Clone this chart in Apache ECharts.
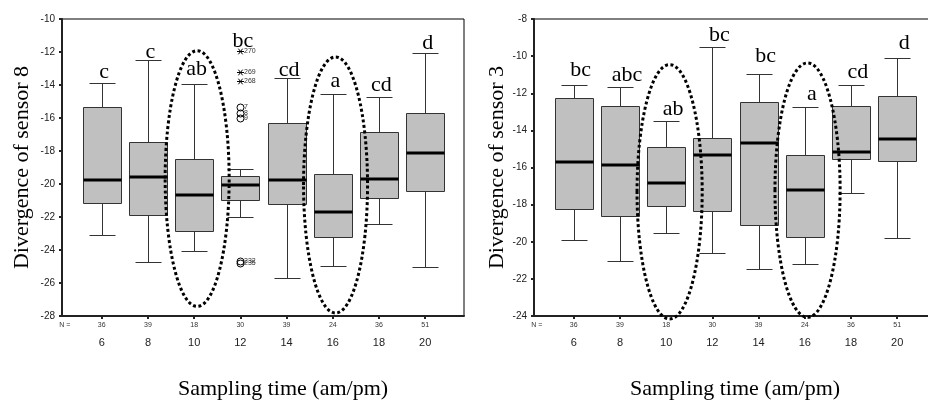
<!DOCTYPE html>
<html><head><meta charset="utf-8">
<script src="https://cdn.jsdelivr.net/npm/echarts@6/dist/echarts.min.js"></script>
<style>html,body{margin:0;padding:0;background:#fff}#c{width:928px;height:401px}</style>
</head><body><div id="c"></div>
<script>
// ---------- data ----------
const times = [6, 8, 10, 12, 14, 16, 18, 20];
const counts = [36, 39, 18, 30, 39, 24, 36, 51];

// sensor 8 (left panel)
const s8Low = [-23.1, -24.74, -24.07, -22.02, -25.7, -24.94, -22.41, -25.05];
const s8Q1  = [-21.15, -21.85, -22.82, -20.97, -21.24, -23.24, -20.85, -20.43];
const s8Med = [-19.78, -19.6, -20.65, -20.06, -19.78, -21.68, -19.72, -18.1];
const s8Q3  = [-15.32, -17.43, -18.48, -19.5, -16.33, -19.39, -16.84, -15.72];
const s8High = [-13.88, -12.5, -13.96, -19.1, -13.6, -14.53, -14.75, -12.06];
const s8Letters = ['c', 'c', 'ab', 'bc', 'cd', 'a', 'cd', 'd'];
const s8LetterBase = [-13.68, -12.46, -13.51, -11.81, -13.57, -14.24, -14.49, -11.9];
const s8OutX = [12, 12, 12, 12, 12, 12, 12, 12];
const s8OutY = [-11.96, -13.19, -13.76, -15.34, -15.7, -16.0, -24.66, -24.78];
const s8OutKind = ['star', 'star', 'star', 'circle', 'circle', 'circle', 'circle', 'circle'];
const s8OutLabel = ['270', '269', '268', '7', '8', '9', '232', '235'];
const s8Ellipses = [[8.745, 11.515, -27.42, -11.92], [14.735, 17.505, -27.82, -12.3]];

// sensor 3 (right panel)
const s3Low = [-19.89, -21.02, -19.51, -20.59, -21.46, -21.22, -17.37, -19.78];
const s3Q1  = [-18.21, -18.63, -18.09, -18.32, -19.1, -19.76, -15.54, -15.64];
const s3Med = [-15.71, -15.87, -16.83, -15.31, -14.7, -17.22, -15.17, -14.45];
const s3Q3  = [-12.25, -12.69, -14.91, -14.41, -12.48, -15.31, -12.69, -12.14];
const s3High = [-11.53, -11.67, -13.47, -9.5, -10.95, -12.75, -11.58, -10.1];
const s3Letters = ['bc', 'abc', 'ab', 'bc', 'bc', 'a', 'cd', 'd'];
const s3LetterBase = [-11.18, -11.45, -13.26, -9.29, -10.42, -12.45, -11.27, -9.69];
const s3Ellipses = [[8.74, 11.56, -24.16, -10.46], [14.71, 17.53, -24.07, -10.37]];

const yTitles = ['Divergence of sensor 8', 'Divergence of sensor 3'];
const xTitle = 'Sampling time (am/pm)';
const nLabel = 'N =';

// ---------- rendering ----------
const SERIF = "'Liberation Serif','Times New Roman',serif";
const SANS = "'Liberation Sans',Arial,sans-serif";
const chart = echarts.init(document.getElementById('c'), null, {renderer: 'canvas'});

const crisp = v => Math.round(v) + 0.5;

function boxRenderer(params, api) {
  const x = api.value(0);
  const lo = api.coord([x, api.value(1)]);
  const q1 = api.coord([x, api.value(2)]);
  const md = api.coord([x, api.value(3)]);
  const q3 = api.coord([x, api.value(4)]);
  const hi = api.coord([x, api.value(5)]);
  const cx = crisp(lo[0]);
  const bw = 38, cw = 26;
  const ln = (x1, y1, x2, y2, w, c) => ({type: 'line', shape: {x1, y1, x2, y2},
    style: {stroke: c, lineWidth: w}});
  const yLo = crisp(lo[1]), yHi = crisp(hi[1]), yQ1 = crisp(q1[1]), yQ3 = crisp(q3[1]);
  return {type: 'group', children: [
    ln(cx, yHi, cx, yQ3, 1, '#333'),
    ln(cx, yQ1, cx, yLo, 1, '#333'),
    ln(cx - cw / 2, yHi, cx + cw / 2, yHi, 1, '#333'),
    ln(cx - cw / 2, yLo, cx + cw / 2, yLo, 1, '#333'),
    {type: 'rect', shape: {x: cx - bw / 2, y: yQ3, width: bw, height: yQ1 - yQ3},
      style: {fill: '#c0c0c0', stroke: '#333', lineWidth: 1}},
    ln(cx - bw / 2, Math.round(md[1]), cx + bw / 2, Math.round(md[1]), 3, '#000')
  ]};
}

function letterRenderer(letters, dx) {
  return function (params, api) {
    const p = api.coord([api.value(0), api.value(1)]);
    return {type: 'text', x: p[0] + dx, y: p[1] - 7.4,
      style: {text: letters[params.dataIndex], fontFamily: SERIF, fontSize: 22,
        fill: '#000', align: 'center', verticalAlign: 'middle'}};
  };
}

function ellipseRenderer(params, api) {
  const a = api.coord([api.value(0), api.value(2)]);
  const b = api.coord([api.value(1), api.value(3)]);
  return {type: 'ellipse',
    shape: {cx: (a[0] + b[0]) / 2, cy: (a[1] + b[1]) / 2,
      rx: Math.abs(b[0] - a[0]) / 2, ry: Math.abs(b[1] - a[1]) / 2},
    style: {fill: 'none', stroke: '#000', lineWidth: 3, lineDash: [3, 2.5]}};
}

function outlierRenderer(params, api) {
  const i = params.dataIndex;
  const p = api.coord([api.value(0), api.value(1)]);
  const x = crisp(p[0]), y = crisp(p[1]);
  const kids = [];
  if (s8OutKind[i] === 'star') {
    const r = 3.5;
    const st = {stroke: '#000', lineWidth: 1};
    kids.push({type: 'line', shape: {x1: x - r, y1: y, x2: x + r, y2: y}, style: st});
    kids.push({type: 'line', shape: {x1: x - r * 0.6, y1: y - r * 0.8, x2: x + r * 0.6, y2: y + r * 0.8}, style: st});
    kids.push({type: 'line', shape: {x1: x - r * 0.6, y1: y + r * 0.8, x2: x + r * 0.6, y2: y - r * 0.8}, style: st});
  } else {
    kids.push({type: 'circle', shape: {cx: x, cy: y, r: 3.5},
      style: {fill: 'none', stroke: '#000', lineWidth: 1}});
  }
  kids.push({type: 'text', x: x + 3.5, y: y,
    style: {text: s8OutLabel[i], fontFamily: SANS, fontSize: 7, fill: '#333',
      align: 'left', verticalAlign: 'middle'}});
  return {type: 'group', children: kids};
}

function xAxis(gi, shift) {
  return {
    type: 'value', gridIndex: gi, min: 4.28, max: 21.68,
    name: xTitle, nameLocation: 'middle', nameGap: 62,
    nameTextStyle: {fontFamily: SERIF, fontSize: 22, color: '#000', padding: [0, 0, 0, shift]},
    splitLine: {show: false},
    axisLine: {show: true, onZero: false, lineStyle: {color: '#222', width: 2}},
    axisTick: {show: true, customValues: times, length: 3, lineStyle: {color: '#222', width: 2}},
    axisLabel: {
      customValues: [4.4].concat(times), margin: 4,
      formatter: function (v) {
        const i = times.indexOf(v);
        if (i < 0) return '{n|' + nLabel + '}\n{c| }';
        return '{n|' + counts[i] + '}\n{c|' + times[i] + '}';
      },
      rich: {
        n: {fontFamily: SANS, fontSize: 7, lineHeight: 10, color: '#333'},
        c: {fontFamily: SANS, fontSize: 11, lineHeight: 26, color: '#222'}
      }
    }
  };
}

function yAxis(gi, min, max, title, gap) {
  return {
    type: 'value', gridIndex: gi, min: min, max: max, interval: 2,
    name: title, nameLocation: 'middle', nameGap: gap, nameRotate: 90,
    nameTextStyle: {fontFamily: SERIF, fontSize: 22, color: '#000'},
    splitLine: {show: false},
    axisLine: {show: true, onZero: false, lineStyle: {color: '#222', width: 2}},
    axisTick: {show: true, length: 3, lineStyle: {color: '#222', width: 2}},
    axisLabel: {margin: 7, fontFamily: SANS, fontSize: 10, color: '#222'}
  };
}

const boxData = (lo, q1, md, q3, hi) => times.map((t, i) => [t, lo[i], q1[i], md[i], q3[i], hi[i]]);

chart.setOption({
  animation: false,
  backgroundColor: '#fff',
  grid: [
    {left: 62, top: 19, width: 402, height: 297, show: true, borderColor: '#000', borderWidth: 1,
      containLabel: false, outerBoundsMode: 'none'},
    {left: 534, top: 19, width: 402, height: 297, show: true, borderColor: '#000', borderWidth: 1,
      containLabel: false, outerBoundsMode: 'none'}
  ],
  xAxis: [xAxis(0, 40), xAxis(1, 0)],
  yAxis: [yAxis(0, -28, -10, yTitles[0], 29), yAxis(1, -24, -8, yTitles[1], 23)],
  series: [
    {type: 'custom', xAxisIndex: 0, yAxisIndex: 0, renderItem: boxRenderer,
      encode: {x: 0, y: [1, 2, 3, 4, 5]}, data: boxData(s8Low, s8Q1, s8Med, s8Q3, s8High)},
    {type: 'custom', xAxisIndex: 1, yAxisIndex: 1, renderItem: boxRenderer,
      encode: {x: 0, y: [1, 2, 3, 4, 5]}, data: boxData(s3Low, s3Q1, s3Med, s3Q3, s3High)},
    {type: 'custom', xAxisIndex: 0, yAxisIndex: 0, renderItem: letterRenderer(s8Letters, 2.5),
      encode: {x: 0, y: 1}, data: times.map((t, i) => [t, s8LetterBase[i]])},
    {type: 'custom', xAxisIndex: 1, yAxisIndex: 1, renderItem: letterRenderer(s3Letters, 7),
      encode: {x: 0, y: 1}, data: times.map((t, i) => [t, s3LetterBase[i]])},
    {type: 'custom', xAxisIndex: 0, yAxisIndex: 0, renderItem: outlierRenderer,
      encode: {x: 0, y: 1}, data: s8OutX.map((x, i) => [x, s8OutY[i]])},
    {type: 'custom', xAxisIndex: 0, yAxisIndex: 0, renderItem: ellipseRenderer, z: 5,
      encode: {x: [0, 1], y: [2, 3]}, data: s8Ellipses},
    {type: 'custom', xAxisIndex: 1, yAxisIndex: 1, renderItem: ellipseRenderer, z: 5,
      encode: {x: [0, 1], y: [2, 3]}, data: s3Ellipses}
  ]
});
</script></body></html>
